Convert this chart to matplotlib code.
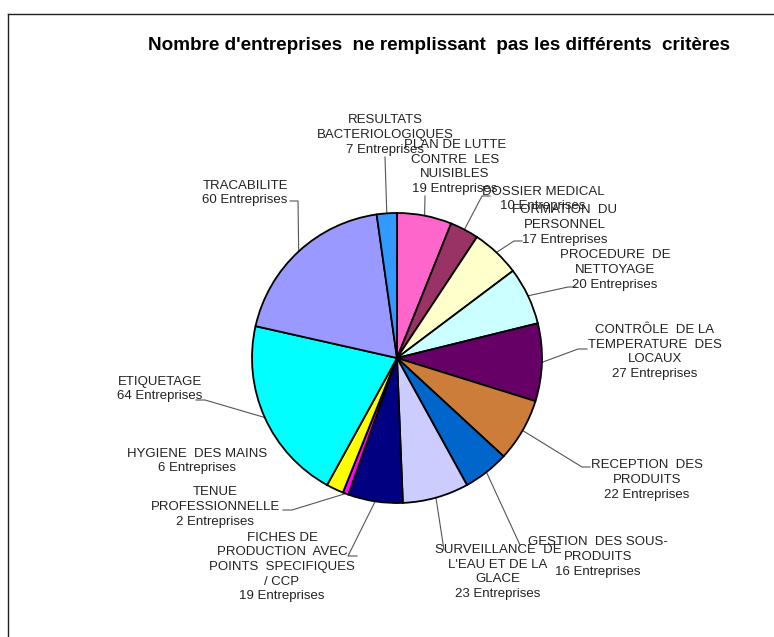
import numpy as np
import matplotlib.pyplot as plt
from matplotlib.lines import Line2D

plt.rcParams['font.family'] = ['Liberation Sans', 'DejaVu Sans']

criteres = [
    "PLAN DE LUTTE\nCONTRE  LES\nNUISIBLES",
    "DOSSIER MEDICAL",
    "FORMATION  DU\nPERSONNEL",
    "PROCEDURE  DE\nNETTOYAGE",
    "CONTRÔLE  DE LA\nTEMPERATURE  DES\nLOCAUX",
    "RECEPTION  DES\nPRODUITS",
    "GESTION  DES SOUS-\nPRODUITS",
    "SURVEILLANCE  DE\nL'EAU ET DE LA\nGLACE",
    "FICHES DE\nPRODUCTION  AVEC\nPOINTS  SPECIFIQUES\n/ CCP",
    "TENUE\nPROFESSIONNELLE",
    "HYGIENE  DES MAINS",
    "ETIQUETAGE",
    "TRACABILITE",
    "RESULTATS\nBACTERIOLOGIQUES",
]
nb_entreprises = [19, 10, 17, 20, 27, 22, 16, 23, 19, 2, 6, 64, 60, 7]
couleurs = ['#FF66CC', '#993366', '#FFFFCC', '#CCFFFF', '#660066', '#CC7D3A',
            '#0066CC', '#CCCCFF', '#000080', '#FF00FF', '#FFFF00', '#00FFFF',
            '#9999FF', '#3399FF']

# label centre, then leader path near the label (pixels); None = no leader
label_px = [(455, 167), (543, 199), (565, 225), (615, 270), (655, 352),
            (647, 480), (598, 557), (498, 572), (282, 567), (215, 507),
            (197, 461), (160, 389), (245, 193), (385, 135)]
leader_px = [
    [(425, 196)],
    [(490, 196), (482, 196)],
    [(522, 241), (514, 241)],
    [(576, 287), (568, 287)],
    [(587, 349), (578, 349)],
    [(590, 467), (582, 467)],
    [(520, 545)],
    [(444, 550)],
    [(357, 556), (348, 556)],
    [(283, 510), (292, 510)],
    None,
    [(196, 400), (205, 400)],
    [(290, 201), (298, 201)],
    [(385, 157)],
]

W, H = 774, 637
CX, CY, R = 397, 358, 145


def px(p):
    return ((p[0] - CX) / R, (CY - p[1]) / R)


fig = plt.figure(figsize=(W / 100, H / 100), dpi=100)
ax = fig.add_axes([0, 0, 1, 1])

wedges, _ = ax.pie(nb_entreprises, colors=couleurs, startangle=90,
                   counterclock=False, radius=1.0,
                   wedgeprops=dict(edgecolor='black', linewidth=1.3))
ax.set_xlim(-CX / R, (W - CX) / R)
ax.set_ylim(-(H - CY) / R, CY / R)
ax.axis('off')

for w, nom, n, lp, path in zip(wedges, criteres, nb_entreprises,
                               label_px, leader_px):
    x, y = px(lp)
    ax.text(x, y, f"{nom}\n{n} Entreprises", ha='center', va='center',
            fontsize=9.5, color='#222222', linespacing=1.3)
    if path is None:
        continue
    mid = np.deg2rad((w.theta1 + w.theta2) / 2)
    pts = [px(p) for p in path] + [(np.cos(mid), np.sin(mid))]
    xs, ys = zip(*pts)
    ax.plot(xs, ys, color='#555555', lw=0.8, zorder=0)

fig.text(439 / W, 1 - 45 / H,
         "Nombre d'entreprises  ne remplissant  pas les différents  critères",
         ha='center', va='center', fontsize=13.6, fontweight='bold')

# frame lines top and left
fig.add_artist(Line2D([8 / W, 1], [1 - 14 / H, 1 - 14 / H],
                      transform=fig.transFigure, color='#222222', lw=1))
fig.add_artist(Line2D([8 / W, 8 / W], [0, 1 - 14 / H],
                      transform=fig.transFigure, color='#222222', lw=1))

fig.savefig('out.png', dpi=100)
